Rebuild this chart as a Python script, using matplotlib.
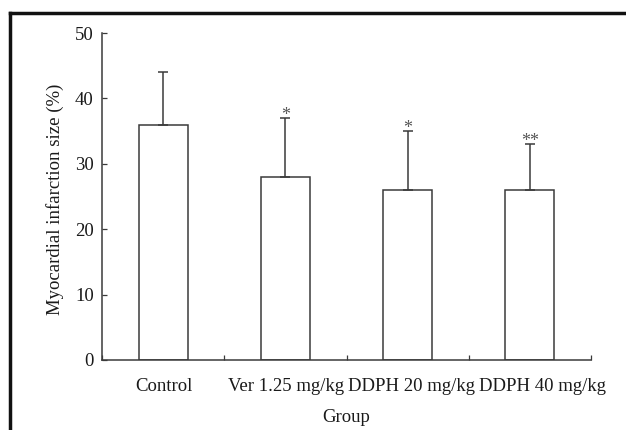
import matplotlib
matplotlib.use("Agg")
import matplotlib.pyplot as plt
from matplotlib.lines import Line2D
from matplotlib.transforms import ScaledTranslation

groups = ["Control", "Ver 1.25 mg/kg", "DDPH 20 mg/kg", "DDPH 40 mg/kg"]
means = [36, 28, 26, 26]
sds = [8, 9, 9, 7]
marks = ["", "*", "*", "**"]
yticks = [0, 10, 20, 30, 40, 50]

plt.rcParams['font.family'] = ['Liberation Serif', 'DejaVu Serif']
lc = '#3a3a3a'
tc = '#1a1a1a'
fs = 13.5

fig = plt.figure(figsize=(6.26, 4.30), dpi=100)
ax = fig.add_axes([102/626, 1-360/430, (591-102)/626, (360-33)/430])

x = list(range(len(groups)))
ax.bar(x, means, width=0.4, color='white', edgecolor=lc, linewidth=1.1, zorder=2)
ax.errorbar(x, means, yerr=[[0]*len(sds), sds], fmt='none', ecolor=lc,
            elinewidth=1.1, capsize=3.4, capthick=1.1, zorder=3)
for xi, m, s, t in zip(x, means, sds, marks):
    if t:
        ax.text(xi, m + s - 0.3, t, ha='center', va='baseline', fontsize=13, color='#555555')

ax.set_xlim(-0.5, len(groups) - 0.5)
ax.set_ylim(0, 50)
ax.set_yticks(yticks)
ax.set_xticks(x)
ax.set_xticklabels(groups)
ax.set_xticks([i - 0.5 for i in range(len(groups) + 1)], minor=True)
ax.tick_params(axis='x', which='major', length=0, pad=13, labelsize=fs, colors=tc)
ax.tick_params(axis='x', which='minor', direction='in', length=3.5, color=lc, width=0.9)
ax.tick_params(axis='y', direction='in', length=3.5, color=lc, width=0.9, pad=6,
               labelsize=fs, labelcolor=tc)
# small horizontal nudges of tick labels, as in the reference layout
label_shift_px = [1, 1, 4, 13]
for lab, dx in zip(ax.get_xticklabels(), label_shift_px):
    lab.set_transform(lab.get_transform() + ScaledTranslation(dx/100, 0, fig.dpi_scale_trans))

for sp in ['top', 'right']:
    ax.spines[sp].set_visible(False)
for sp in ['left', 'bottom']:
    ax.spines[sp].set_color(lc)
    ax.spines[sp].set_linewidth(1.1)
ax.spines['left'].set_zorder(4)

ax.set_xlabel("Group", fontsize=fs, color=tc, labelpad=10)
ax.set_ylabel("Myocardial infarction size (%)", fontsize=13.5, color=tc)
ax.yaxis.set_label_coords(-0.078, 0.49)

fig.add_artist(Line2D([10/626, 10/626], [0, 1-13/430], transform=fig.transFigure,
                      color='#111111', linewidth=2.5))
fig.add_artist(Line2D([10/626, 1], [1-13/430, 1-13/430], transform=fig.transFigure,
                      color='#111111', linewidth=2.5, solid_capstyle='projecting'))

fig.savefig("out.png", dpi=100)
